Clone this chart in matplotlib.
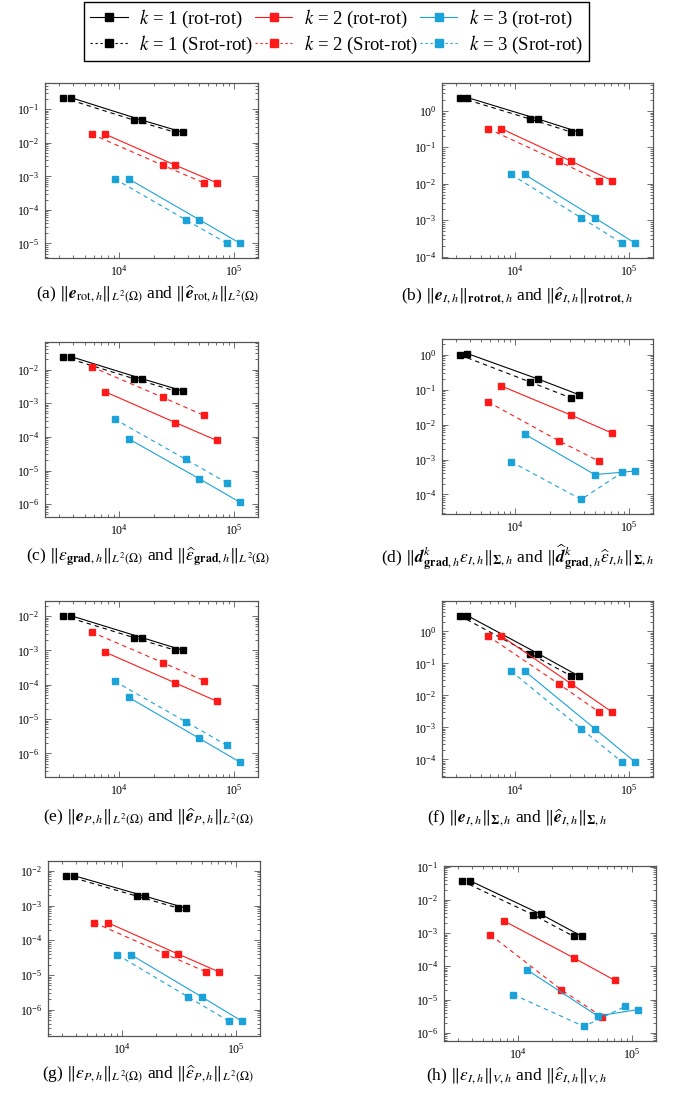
import matplotlib
matplotlib.use("Agg")
import matplotlib.pyplot as plt
import numpy as np
from matplotlib.ticker import LogLocator, NullFormatter
from matplotlib.lines import Line2D
from matplotlib.mathtext import MathTextParser
from matplotlib.font_manager import FontProperties

plt.rcParams['font.family'] = ['Liberation Serif', 'DejaVu Serif']
plt.rcParams['mathtext.fontset'] = 'stix'

# number of degrees of freedom, per degree k
dofs_rot = {1: [3790, 15920, 36180], 2: [7540, 30980, 70990], 3: [12080, 49980, 113660]}
dofs_srot = {1: [3230, 13540, 30980], 2: [5760, 23990, 54570], 3: [9160, 37940, 87380]}

# errors, one dict per panel: (rot-rot, Srot-rot)
err_a_rot = {1: [0.222, 0.047, 0.0204], 2: [0.0181, 0.00214, 6.4e-4], 3: [8.4e-4, 5.1e-5, 1.0e-5]}
err_a_srot = {1: [0.222, 0.047, 0.0204], 2: [0.0181, 0.00214, 6.4e-4], 3: [8.4e-4, 5.1e-5, 1.0e-5]}

err_b_rot = {1: [2.31, 0.593, 0.262], 2: [0.323, 0.0415, 0.0121], 3: [0.018, 1.16e-3, 2.31e-4]}
err_b_srot = {1: [2.31, 0.593, 0.262], 2: [0.323, 0.0415, 0.0121], 3: [0.018, 1.16e-3, 2.31e-4]}

err_c_rot = {1: [0.0242, 5.3e-3, 2.29e-3], 2: [2.19e-3, 2.65e-4, 7.8e-5], 3: [8.8e-5, 5.7e-6, 1.13e-6]}
err_c_srot = {1: [0.0242, 5.3e-3, 2.29e-3], 2: [0.012, 1.49e-3, 4.37e-4], 3: [3.37e-4, 2.16e-5, 4.3e-6]}

err_d_rot = {1: [1.09, 0.202, 0.0724], 2: [0.128, 0.0187, 5.7e-3], 3: [5.36e-3, 3.7e-4, 4.7e-4]}
err_d_srot = {1: [1.0, 0.166, 0.058], 2: [0.0448, 3.47e-3, 8.9e-4], 3: [8.7e-4, 7.2e-5, 4.3e-4]}

err_e_rot = {1: [0.0102, 2.33e-3, 1.0e-3], 2: [8.9e-4, 1.12e-4, 3.3e-5], 3: [4.3e-5, 2.74e-6, 5.5e-7]}
err_e_srot = {1: [0.0102, 2.33e-3, 1.0e-3], 2: [3.4e-3, 4.4e-4, 1.32e-4], 3: [1.26e-4, 8.4e-6, 1.7e-6]}

err_f_rot = {1: [3.09, 0.2, 0.040], 2: [0.71, 0.023, 3.0e-3], 3: [0.0575, 9.1e-4, 8.1e-5]}
err_f_srot = {1: [3.09, 0.2, 0.040], 2: [0.71, 0.023, 3.0e-3], 3: [0.0575, 9.1e-4, 8.1e-5]}

err_g_rot = {1: [7.3e-3, 1.87e-3, 8.5e-4], 2: [3.2e-4, 4.05e-5, 1.23e-5], 3: [3.8e-5, 2.36e-6, 4.6e-7]}
err_g_srot = {1: [7.3e-3, 1.87e-3, 8.5e-4], 2: [3.2e-4, 4.05e-5, 1.23e-5], 3: [3.8e-5, 2.36e-6, 4.6e-7]}

err_h_rot = {1: [0.038, 3.7e-3, 8.1e-4], 2: [2.34e-3, 1.79e-4, 3.75e-5], 3: [7.8e-5, 3.2e-6, 5.0e-6]}
err_h_srot = {1: [0.0372, 3.6e-3, 7.9e-4], 2: [8.9e-4, 1.97e-5, 3.07e-6], 3: [1.4e-5, 1.55e-6, 6.2e-6]}

degrees = [1, 2, 3]
colors = {1: 'black', 2: '#ff1a1a', 3: '#1ba3d9'}

U = r'\underline'
B = r'\boldsymbol'
captions = [
    r'(a) $\Vert' + U + '{' + B + r'{e}}_{\mathrm{rot},h}\Vert_{L^2(\Omega)}$ and $\Vert\widehat{' + U + '{' + B + r'{e}}}_{\mathrm{rot},h}\Vert_{L^2(\Omega)}$',
    r'(b) $\Vert' + U + '{' + B + r'{e}}_{I,h}\Vert_{\mathbf{rot}\,\mathbf{rot},h}$ and $\Vert\widehat{' + U + '{' + B + r'{e}}}_{I,h}\Vert_{\mathbf{rot}\,\mathbf{rot},h}$',
    r'(c) $\Vert' + U + r'{\varepsilon}_{\mathbf{grad},h}\Vert_{L^2(\Omega)}$ and $\Vert\widehat{' + U + r'{\varepsilon}}_{\mathbf{grad},h}\Vert_{L^2(\Omega)}$',
    r'(d) $\Vert' + U + '{' + B + r'{d}}^{k}_{\mathbf{grad},h}' + U + r'{\varepsilon}_{I,h}\Vert_{' + B + r'{\Sigma},h}$ and $\Vert\widehat{' + U + '{' + B + r'{d}}}^{k}_{\mathbf{grad},h}\widehat{' + U + r'{\varepsilon}}_{I,h}\Vert_{' + B + r'{\Sigma},h}$',
    r'(e) $\Vert' + U + '{' + B + r'{e}}_{P,h}\Vert_{L^2(\Omega)}$ and $\Vert\widehat{' + U + '{' + B + r'{e}}}_{P,h}\Vert_{L^2(\Omega)}$',
    r'(f) $\Vert' + U + '{' + B + r'{e}}_{I,h}\Vert_{' + B + r'{\Sigma},h}$ and $\Vert\widehat{' + U + '{' + B + r'{e}}}_{I,h}\Vert_{' + B + r'{\Sigma},h}$',
    r'(g) $\Vert' + U + r'{\varepsilon}_{P,h}\Vert_{L^2(\Omega)}$ and $\Vert\widehat{' + U + r'{\varepsilon}}_{P,h}\Vert_{L^2(\Omega)}$',
    r'(h) $\Vert' + U + r'{\varepsilon}_{I,h}\Vert_{V,h}$ and $\Vert\widehat{' + U + r'{\varepsilon}}_{I,h}\Vert_{V,h}$',
]


def parses(s):
    try:
        MathTextParser('path').parse(s, 72, FontProperties())
        return True
    except Exception:
        return False


def safe_caption(text):
    parts = text.split('$')
    out = []
    for i, p in enumerate(parts):
        if i % 2 == 1:
            m = '$' + p + '$'
            if not parses(m):
                m = m.replace(r'\underline', '')
            if not parses(m):
                m = m.replace(r'\boldsymbol', r'\mathbf')
            if not parses(m):
                m = m.replace(r'\widehat', r'\hat')
            out.append(m[1:-1])
        else:
            out.append(p)
    return '$'.join(out)


panels = [
    (err_a_rot, err_a_srot), (err_b_rot, err_b_srot),
    (err_c_rot, err_c_srot), (err_d_rot, err_d_srot),
    (err_e_rot, err_e_srot), (err_f_rot, err_f_srot),
    (err_g_rot, err_g_srot), (err_h_rot, err_h_srot),
]

W, H = 682, 1093
# axes boxes in pixels: left, right, top, bottom
boxes = [
    (45, 258, 83, 258), (442, 653, 83, 258),
    (45, 258, 342, 517), (442, 653, 339, 514),
    (45, 258, 601, 777), (442, 653, 601, 777),
    (48, 260, 861, 1036), (444, 656, 866, 1041),
]
caption_pos = [(148, 294), (517, 296), (148, 557), (517, 558),
               (148, 817), (517, 818), (148, 1074), (517, 1076)]


def enlarged(vals, frac=0.1):
    lv = np.log10(vals)
    pad = frac * (lv.max() - lv.min())
    return 10 ** (lv.min() - pad), 10 ** (lv.max() + pad)


fig = plt.figure(figsize=(W / 100, H / 100), dpi=100)
frame = '#555555'

for (rot, srot), (l, r, t, b), cap, (cx, cy) in zip(panels, boxes, captions, caption_pos):
    ax = fig.add_axes([l / W, 1 - b / H, (r - l) / W, (b - t) / H])
    ax.set_xscale('log')
    ax.set_yscale('log')
    xs, ys = [], []
    for k in degrees:
        ax.plot(dofs_rot[k], rot[k], '-', marker='s', ms=4.8, lw=0.8, color=colors[k])
        ax.plot(dofs_srot[k], srot[k], ls=(0, (4, 3.5)), marker='s', ms=4.8, lw=0.8, color=colors[k])
        xs += dofs_rot[k] + dofs_srot[k]
        ys += rot[k] + srot[k]
    ax.set_xlim(*enlarged(np.array(xs)))
    ax.set_ylim(*enlarged(np.array(ys)))
    ax.xaxis.set_major_locator(LogLocator(base=10, numticks=20))
    ax.yaxis.set_major_locator(LogLocator(base=10, numticks=20))
    ax.xaxis.set_minor_locator(LogLocator(base=10, subs=np.arange(2, 10), numticks=20))
    ax.yaxis.set_minor_locator(LogLocator(base=10, subs=np.arange(2, 10), numticks=20))
    ax.xaxis.set_minor_formatter(NullFormatter())
    ax.yaxis.set_minor_formatter(NullFormatter())
    ax.tick_params(which='both', direction='in', top=True, right=True, color=frame,
                   labelsize=8.5, width=0.6)
    ax.tick_params(which='major', length=4, pad=4)
    ax.tick_params(which='minor', length=2)
    for s in ax.spines.values():
        s.set_color(frame)
        s.set_linewidth(0.9)
    fig.text(cx / W, 1 - cy / H, safe_caption(cap), ha='center', va='center', fontsize=12.5)

handles, labels = [], []
for k in degrees:
    handles.append(Line2D([], [], color=colors[k], lw=0.8, marker='s', ms=5.5))
    labels.append(r'$k$ = %d (rot-rot)' % k)
    handles.append(Line2D([], [], color=colors[k], lw=0.8, ls=(0, (2, 2.5)), marker='s', ms=5.5))
    labels.append(r'$k$ = %d (Srot-rot)' % k)

fig.legend(handles, labels, ncol=3, loc='upper center', bbox_to_anchor=(336.5 / W, 1 - 2 / H),
           frameon=True, fancybox=False, edgecolor='black', framealpha=1, fontsize=13.5,
           handlelength=2.0, handletextpad=0.6, columnspacing=0.1, labelspacing=0.2,
           borderpad=0.3, borderaxespad=0)

fig.savefig('out.png', dpi=100)
